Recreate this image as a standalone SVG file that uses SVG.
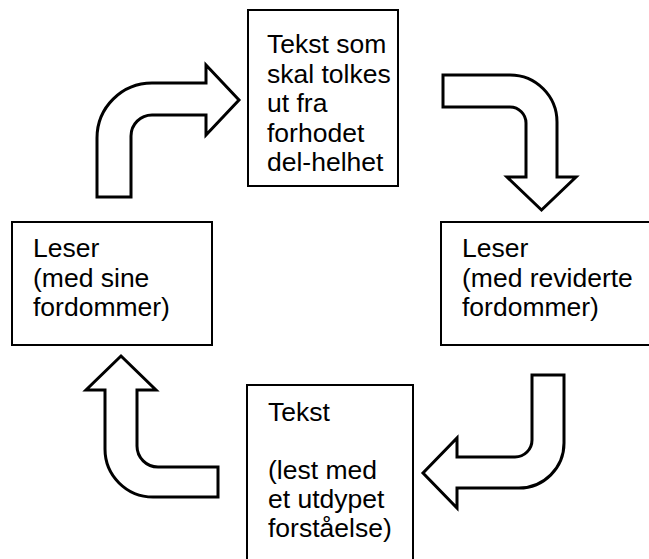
<svg xmlns="http://www.w3.org/2000/svg" width="649" height="559" viewBox="0 0 649 559">
<style>
.box{fill:#fff;stroke:#000;stroke-width:2}
.arr{fill:#fff;stroke:#000;stroke-width:3;stroke-linejoin:miter}
text{font-family:"Liberation Sans",Arial,sans-serif;font-size:26.5px;fill:#000}
</style>
<rect width="649" height="559" fill="#fff"/>
<g id="connectors">
<path class="arr" d="M97,197 L97,138 A55,55 0 0 1 152,83 L206,83 L206,65 L239,100 L206,135 L206,115 L152,115 A21,21 0 0 0 131,136 L131,197 Z"/>
<path class="arr" d="M443,75 L510,75 A47,47 0 0 1 557,122 L557,177 L576,177 L541.5,210 L507,177 L526,177 L526,123 A16,16 0 0 0 510,107 L443,107 Z"/>
<path class="arr" d="M532,375 L564,375 L564,443 A45,45 0 0 1 519,488 L457,488 L457,508 L423,473 L457,438 L457,457 L515,457 A17,17 0 0 0 532,440 Z"/>
<path class="arr" d="M121,356 L156,390 L137,390 L137,446 A21,21 0 0 0 158,467 L218,467 L218,497 L153,497 A48,48 0 0 1 105,449 L105,390 L86,390 Z"/>
</g>
<g id="top">
<rect class="box" x="248" y="10" width="150" height="176"/>
<text x="267" y="53">Tekst som</text>
<text x="267" y="82.5">skal tolkes</text>
<text x="267" y="112">ut fra</text>
<text x="267" y="141.5">forhodet</text>
<text x="267" y="171">del-helhet</text>
</g>
<g id="left">
<rect class="box" x="12" y="222" width="200" height="123"/>
<text x="33" y="257">Leser</text>
<text x="33" y="286.5">(med sine</text>
<text x="33" y="316">fordommer)</text>
</g>
<g id="right">
<rect class="box" x="441" y="222" width="212" height="123"/>
<text x="462" y="257">Leser</text>
<text x="462" y="286.5">(med reviderte</text>
<text x="462" y="316">fordommer)</text>
</g>
<g id="bottom">
<rect class="box" x="247" y="385" width="166" height="180"/>
<text x="268" y="421">Tekst</text>
<text x="268" y="479">(lest med</text>
<text x="268" y="508">et utdypet</text>
<text x="268" y="537">forståelse)</text>
</g>
</svg>
